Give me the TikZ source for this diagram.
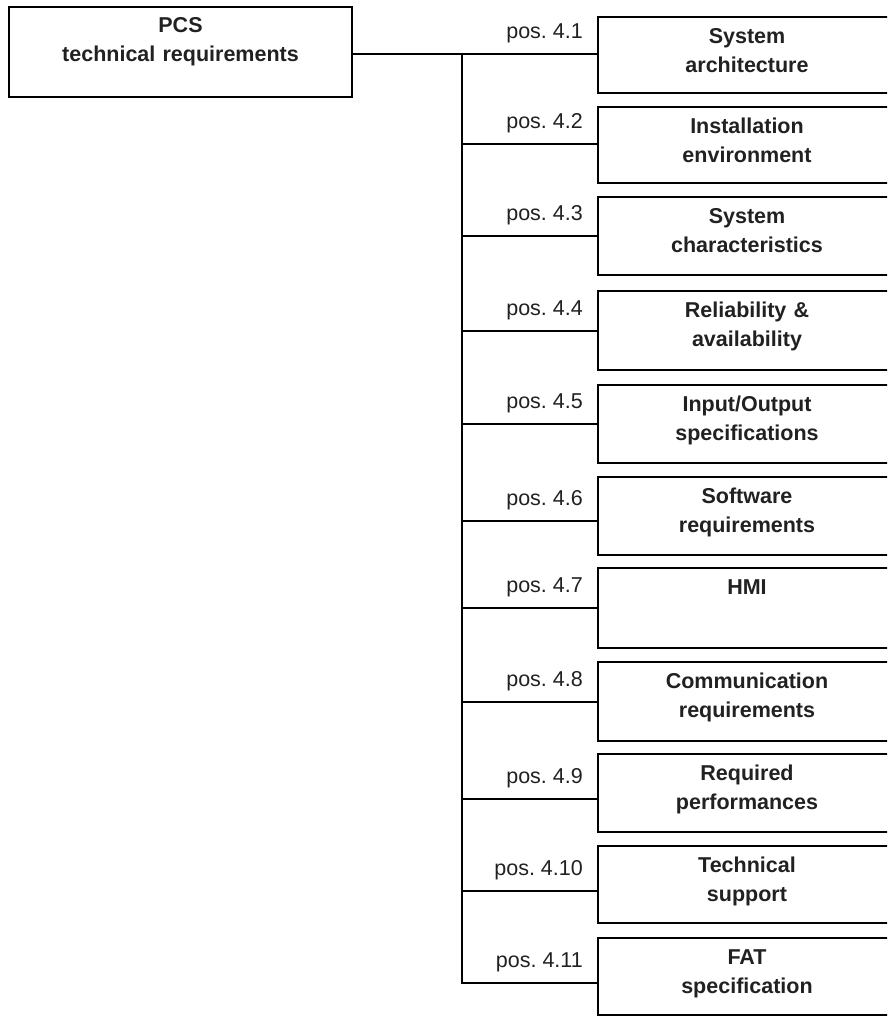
\documentclass[tikz,border=0pt]{standalone}
\usepackage{fontspec}
\setmainfont{Liberation Sans}
\frenchspacing
\definecolor{txtgray}{gray}{0.13}
\begin{document}
\begin{tikzpicture}[x=1pt,y=-1pt,
  frame/.style={draw=black, line width=1.8pt, inner sep=0pt, outer sep=0pt, rectangle},
  conn/.style={draw=black, line width=1.5pt, line cap=rect},
  btext/.style={font=\fontsize{21.5}{29.5}\selectfont\bfseries, text=txtgray, align=center, text width=280pt, inner sep=0pt, anchor=base},
  plabel/.style={font=\fontsize{21.5}{26}\selectfont, text=txtgray, anchor=base east, inner sep=0pt}]
\useasboundingbox (0,0) rectangle (887,1017);
\clip (0,0) rectangle (887,1017);
\node[frame, anchor=north west, minimum width=343pt, minimum height=90pt] (pcs) at (9,7) {};
\node[btext] (pcst) at (180.5,32) {PCS\\technical requirements};
\foreach \n/\t/\b/\l/\txt in {
 1/17/93/54/{System\\architecture},
 2/107/183/144/{Installation\\environment},
 3/197/275/236/{System\\characteristics},
 4/291/370/331/{Reliability \&\\availability},
 5/385/463/424/{Input/Output\\specifications},
 6/477/555/521/{Software\\requirements},
 7/568/648/608/{HMI},
 8/662/741/702/{Communication\\requirements},
 9/754/832/799/{Required\\performances},
 10/846/923/891/{Technical\\support},
 11/938/1015/983/{FAT\\specification}}
{
 \node[frame, anchor=north west, minimum width=298pt, minimum height={(\b-\t)*1pt}] (b\n) at (598,\t) {};
 \node[btext] (t\n) at (747,\t+26) {\txt};
 \coordinate (j\n) at (462,\l);
 \draw[conn] (j\n) -- (j\n -| b\n.west);
 \node[plabel] (p\n) at (583,\l-16) {pos. 4.\n};
}
\draw[conn] (j1 -| pcs.east) -- (j1);
\draw[conn] (j1) -- (j11);
\end{tikzpicture}
\end{document}
